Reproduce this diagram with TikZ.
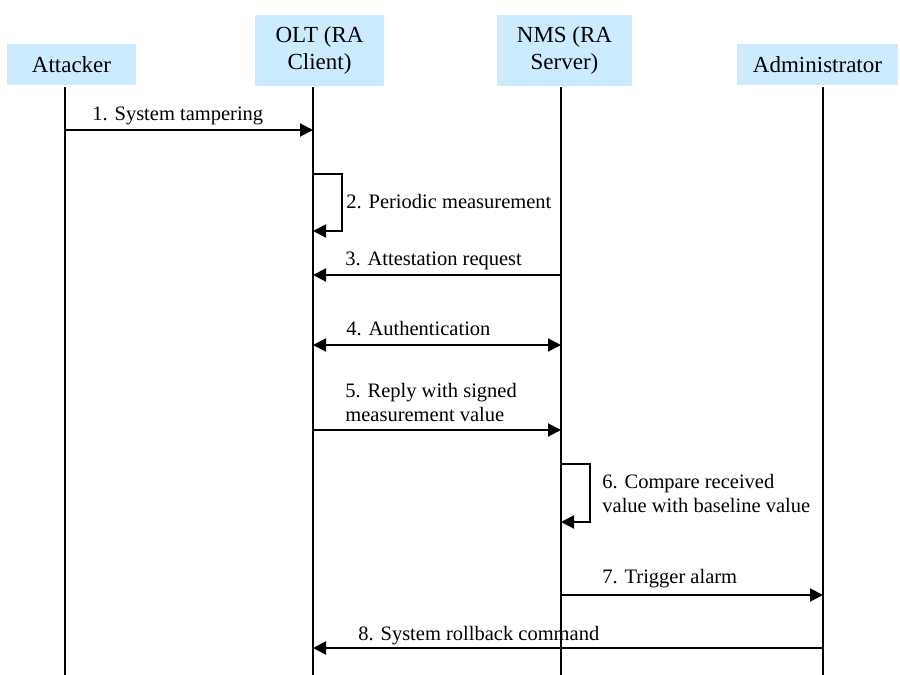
\documentclass[tikz,border=0pt]{standalone}
\usepackage{fontspec}
\newfontfamily\diagfont{Liberation Serif}
\usepackage{xcolor}
\usetikzlibrary{arrows.meta}
\definecolor{headblue}{HTML}{CCEBFF}
\tikzset{
  >={Triangle[length=6.5pt,width=6.5pt]},
  actor/.style={fill=headblue, inner sep=0pt, align=center,
                font=\diagfont\fontsize{11.5}{13.5}\selectfont},
  life/.style={line width=1pt},
  msg/.style={line width=1pt, ->},
  lbl/.style={inner sep=0pt, align=left, font=\diagfont\fontsize{10.25}{12}\selectfont},
}

\begin{document}
\begin{tikzpicture}[x=0.5pt, y=-0.5pt]
\useasboundingbox (0,0) rectangle (900,675);

% Participants
\node[actor, minimum width=64.5pt, minimum height=20.5pt] (att) at (71.5,64.5) {Attacker};
\node[actor, minimum width=64.5pt, minimum height=35.5pt] (olt) at (319.5,50.5) {OLT (RA\\Client)};
\node[actor, minimum width=67.5pt, minimum height=35.5pt] (nms) at (564.5,50.5) {NMS (RA\\Server)};
\node[actor, minimum width=80.5pt, minimum height=20.5pt] (adm) at (817.5,64.5) {Administrator};

% Lifelines
\coordinate (attL) at (65,87);
\coordinate (oltL) at (313,87);
\coordinate (nmsL) at (561,87);
\coordinate (admL) at (823,87);
\draw[life] (attL) -- (attL |- 0,675);
\draw[life] (oltL) -- (oltL |- 0,675);
\draw[life] (nmsL) -- (nmsL |- 0,675);
\draw[life] (admL) -- (admL |- 0,675);

% 1. tampering
\draw[msg] (attL |- 0,130) -- (oltL |- 0,130);
\node[lbl, anchor=base west] (m1) at (92,120) {1. System tampering};

% 2. self check on OLT
\draw[msg] (oltL |- 0,174) -| (342,231) -- (oltL |- 0,231);
\node[lbl, anchor=base west] (m2) at (346,208) {2. Periodic measurement};

% 3. request
\draw[msg] (nmsL |- 0,275) -- (oltL |- 0,275);
\node[lbl, anchor=base west] (m3) at (345,265) {3. Attestation request};

% 4. authentication (both ways)
\draw[line width=1pt, <->] (oltL |- 0,345) -- (nmsL |- 0,345);
\node[lbl, anchor=base west] (m4) at (346,335) {4. Authentication};

% 5. reply
\draw[msg] (oltL |- 0,430) -- (nmsL |- 0,430);
\node[lbl, anchor=north west] (m5) at (345,383) {5. Reply with signed\\measurement value};

% 6. self check on NMS
\draw[msg] (nmsL |- 0,464) -| (590,522) -- (nmsL |- 0,522);
\node[lbl, anchor=north west] (m6) at (602,474) {6. Compare received\\value with baseline value};

% 7. alarm
\draw[msg] (nmsL |- 0,595) -- (admL |- 0,595);
\node[lbl, anchor=base west] (m7) at (602,583) {7. Trigger alarm};

% 8. rollback
\draw[msg] (admL |- 0,648) -- (oltL |- 0,648);
\node[lbl, anchor=base west] (m8) at (358,640) {8. System rollback command};

\end{tikzpicture}
\end{document}
